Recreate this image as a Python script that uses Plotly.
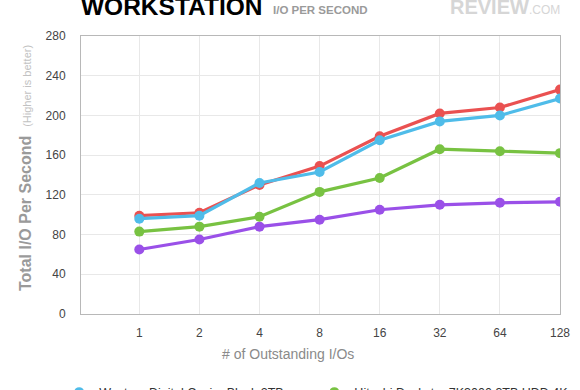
import plotly.graph_objects as go

categories = ["1", "2", "4", "8", "16", "32", "64", "128"]
wd_black = [96, 99, 132, 143, 175, 194, 200, 217]
hitachi = [83, 88, 98, 123, 137, 166, 164, 162]
red_drive = [99, 102, 130, 149, 179, 202, 208, 226]
purple_drive = [65, 75, 88, 95, 105, 110, 112, 113]

series = [
    ("Seagate Barracuda XT 3TB", red_drive, "#ea5151", "legend"),
    ("Western Digital Caviar Green 3TB", purple_drive, "#9a50e8", "legend2"),
    ("Hitachi Deskstar 7K3000 3TB HDD 4K", hitachi, "#78c242", "legend2"),
    ("Western Digital Caviar Black 2TB", wd_black, "#4fbce9", "legend"),
]
legend_rank = {"Western Digital Caviar Black 2TB": 1, "Seagate Barracuda XT 3TB": 2,
               "Hitachi Deskstar 7K3000 3TB HDD 4K": 1, "Western Digital Caviar Green 3TB": 2}

xs = list(range(len(categories)))
fig = go.Figure()
for name, vals, color, leg in series:
    fig.add_trace(go.Scatter(
        x=xs, y=vals, name=name, mode="lines+markers",
        line=dict(color=color, width=3.2),
        marker=dict(color=color, size=10),
        showlegend=False,
    ))
for name, vals, color, leg in series:
    fig.add_trace(go.Scatter(
        x=[None], y=[None], name=name, mode="markers",
        marker=dict(color=color, size=10),
        legend=leg, legendrank=legend_rank[name], showlegend=True,
    ))

legend_style = dict(
    orientation="v", xref="container", yref="container",
    y=0.032, xanchor="left", yanchor="top",
    font=dict(size=12.5, color="#333"), tracegroupgap=0,
)
fig.update_layout(
    width=580, height=390,
    margin=dict(l=81, r=20, t=36, b=76, autoexpand=False),
    paper_bgcolor="white", plot_bgcolor="white",
    font=dict(family="Liberation Sans, Arial, sans-serif", color="#444", size=12),
    showlegend=True,
    legend=dict(x=0.102, **legend_style),
    legend2=dict(x=0.542, **legend_style),
)
fig.update_xaxes(
    range=[-0.97, 7], tickvals=xs, ticktext=categories, automargin=False,
    showgrid=True, gridcolor="#e8e8e8", gridwidth=1,
    showline=True, linecolor="#b8b8b8", linewidth=1, mirror=True,
    zeroline=False, ticks="", ticklabelstandoff=8,
    tickfont=dict(size=12, color="#444"),
)
fig.update_yaxes(
    range=[0, 280], tickvals=[0, 40, 80, 120, 160, 200, 240, 280], automargin=False,
    showgrid=True, gridcolor="#e8e8e8", gridwidth=1,
    showline=True, linecolor="#b8b8b8", linewidth=1, mirror=True,
    zeroline=False, ticks="", ticklabelstandoff=12,
    tickfont=dict(size=12, color="#444"),
)

fig.add_annotation(
    text="<b>Total I/O Per Second</b>  <span style='font-size:11px;color:#c2c2c2'>(Higher is better)</span>",
    xref="paper", yref="paper", x=-0.117, y=0.525, xanchor="center", yanchor="middle",
    textangle=-90, showarrow=False, font=dict(size=16, color="#9a9a9a"),
)
fig.add_annotation(
    text="# of Outstanding I/Os", xref="paper", yref="paper",
    x=0.432, y=0, yshift=-30, xanchor="center", yanchor="top",
    showarrow=False, font=dict(size=14, color="#8a8a8a"),
)
fig.add_annotation(
    text="<b>WORKSTATION</b>", xref="paper", yref="paper",
    x=0, y=1, xshift=-2, yshift=14, xanchor="left", yanchor="bottom",
    showarrow=False, font=dict(family="Liberation Sans, Arial, sans-serif", size=24.5, color="#000"),
)
fig.add_annotation(
    text="<b>I/O PER SECOND</b>", xref="paper", yref="paper",
    x=0, y=1, xshift=190, yshift=18, xanchor="left", yanchor="bottom",
    showarrow=False, font=dict(family="Liberation Sans, Arial, sans-serif", size=11.5, color="#9a9a9a"),
)
fig.add_annotation(
    text="<b>REVIEW</b><span style='font-size:12px'>.COM</span>", xref="paper", yref="paper",
    x=1, y=1, xshift=2, yshift=16, xanchor="right", yanchor="bottom",
    showarrow=False, font=dict(family="Liberation Sans, Arial, sans-serif", size=20, color="#d6d6d6"),
)

fig.write_html(
    "out.html",
    config={"displayModeBar": False},
    post_script="document.body.style.margin='0px';document.body.style.overflow='hidden';",
)
